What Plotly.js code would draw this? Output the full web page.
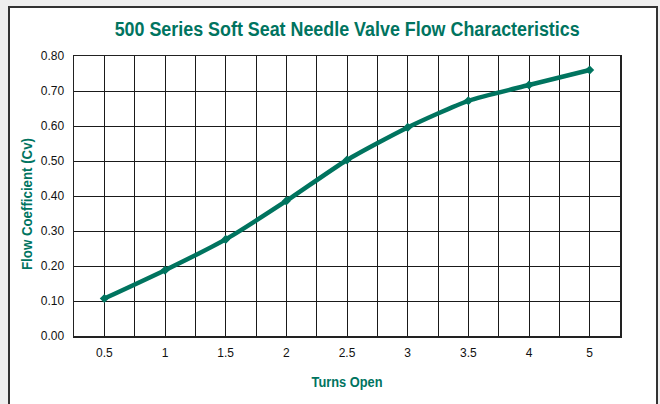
<!DOCTYPE html>
<html>
<head>
<meta charset="utf-8">
<script src="https://cdn.plot.ly/plotly-3.0.1.min.js"></script>
<style>
  html, body { margin: 0; padding: 0; background: #efefef; width: 660px; height: 404px; overflow: hidden; }
  #frame { position: absolute; left: 8px; top: 6px; width: 646px; height: 420px; background: #fff; border: 2px solid #333; }
  #chart { position: absolute; left: 0; top: 0; width: 660px; height: 404px; }
</style>
</head>
<body>
<div id="frame"></div>
<div id="chart"></div>
<script>
const turnsLabels = ["0.5", "1", "1.5", "2", "2.5", "3", "3.5", "4", "5"];
const flowCv = [0.107, 0.188, 0.276, 0.386, 0.503, 0.596, 0.672, 0.717, 0.760];
const yTicks = [0, 0.1, 0.2, 0.3, 0.4, 0.5, 0.6, 0.7, 0.8];

const green = "#00745F";
const titleFont = "'Liberation Sans', Arial, sans-serif";
const idx = turnsLabels.map((_, i) => i);

const trace = {
  x: idx,
  y: flowCv,
  type: "scatter",
  mode: "lines+markers",
  line: { color: green, width: 4.5, shape: "spline", smoothing: 0.6 },
  marker: { symbol: "diamond", size: 7, color: green },
  hoverinfo: "skip"
};

const gridCol = "#1a1a1a";
const layout = {
  width: 660, height: 404,
  paper_bgcolor: "rgba(0,0,0,0)",
  plot_bgcolor: "#ffffff",
  margin: { l: 74, r: 40, t: 56, b: 68 },
  showlegend: false,
  title: {
    text: "500 Series Soft Seat Needle Valve Flow Characteristics",
    font: { family: titleFont, size: 20, weight: 700, color: green },
    x: 0.526, xanchor: "center", y: 0.927, yanchor: "middle"
  },
  xaxis: {
    type: "linear",
    range: [-0.5, turnsLabels.length - 0.5],
    tickmode: "array",
    tickvals: idx,
    ticktext: turnsLabels,
    ticks: "",
    ticklabelstandoff: 5,
    showgrid: true, gridcolor: gridCol, gridwidth: 1,
    minor: { tickmode: "linear", tick0: -0.5, dtick: 1, showgrid: true, gridcolor: gridCol, gridwidth: 1, ticks: "" },
    zeroline: false,
    showline: true, linecolor: "#222", linewidth: 1.5, mirror: true,
    tickfont: { family: "Arial, 'Liberation Sans', sans-serif", size: 12, color: "#111" },
    title: { text: "Turns Open", font: { family: titleFont, size: 14.5, weight: 700, color: green }, standoff: 18 },
    fixedrange: true
  },
  yaxis: {
    range: [0, 0.8],
    tickmode: "array",
    tickvals: yTicks,
    tickformat: ".2f",
    ticks: "",
    ticklabelstandoff: 6,
    showgrid: true, gridcolor: gridCol, gridwidth: 1,
    zeroline: false,
    showline: true, linecolor: "#222", linewidth: 1.5, mirror: true,
    tickfont: { family: "Arial, 'Liberation Sans', sans-serif", size: 12, color: "#111" },
    title: { text: "Flow Coefficient (Cv)", font: { family: titleFont, size: 14, weight: 700, color: green }, standoff: 5 },
    fixedrange: true
  }
};

Plotly.newPlot("chart", [trace], layout, { displayModeBar: false, staticPlot: true }).then(function (gd) {
  const fit = [[".gtitle", 465], [".xtitle", 71], [".ytitle", 132]];
  fit.forEach(function (f) {
    const el = gd.querySelector(f[0]);
    if (el) {
      el.setAttribute("textLength", f[1]);
      el.setAttribute("lengthAdjust", "spacingAndGlyphs");
    }
  });
  const yt = gd.querySelector(".ytitle");
  if (yt) {
    const tr = yt.getAttribute("transform") || "";
    yt.setAttribute("transform", "translate(0,8) " + tr);
  }
});
</script>
</body>
</html>
